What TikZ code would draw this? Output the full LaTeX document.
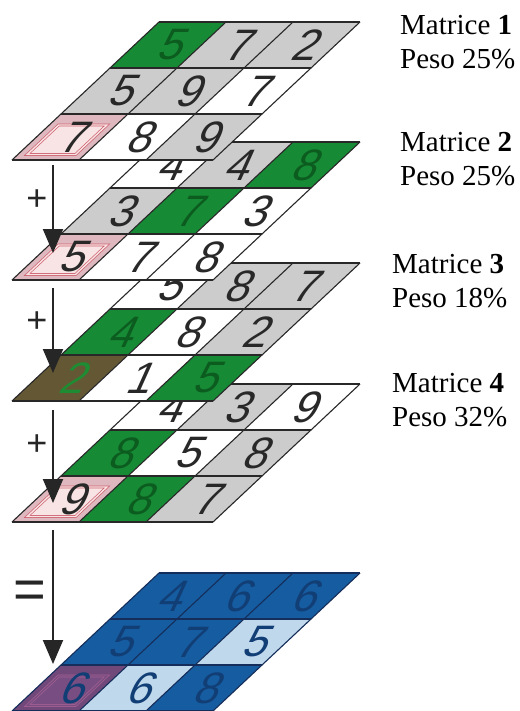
\documentclass[tikz,border=0pt]{standalone}
\usepackage{fontspec}
\setmainfont{Liberation Serif}
\newfontfamily\numfont[FakeSlant=0.45]{Liberation Sans}
\newfontfamily\symfont{Liberation Sans}
\usetikzlibrary{arrows.meta}
\definecolor{cgreen}{RGB}{22,138,52}
\definecolor{cgray}{RGB}{204,204,204}
\definecolor{cpink}{RGB}{222,184,190}
\definecolor{cpinkin}{RGB}{248,228,228}
\definecolor{cpinkline}{RGB}{205,95,110}
\definecolor{colive}{RGB}{100,88,52}
\definecolor{cblue}{RGB}{22,92,160}
\definecolor{clblue}{RGB}{192,216,236}
\definecolor{cpurple}{RGB}{112,72,122}
\definecolor{cpurplein}{RGB}{120,78,130}
\definecolor{cpurpleline}{RGB}{165,95,145}
\definecolor{dgray}{RGB}{40,40,40}
\definecolor{dgreen}{RGB}{12,92,32}
\definecolor{mgreen}{RGB}{30,140,50}
\definecolor{dblue}{RGB}{18,62,118}
\definecolor{gline}{RGB}{40,40,40}
\definecolor{bline}{RGB}{20,45,90}
\tikzset{
  layer/.style 2 args={shift={(#1,#2)}, x={(67pt,0pt)}, y={(-49pt,-46pt)}},
  digit/.style={font=\numfont\fontsize{44}{44}\selectfont, inner sep=0pt},
  gl/.style={line width=1.1pt},
  lab/.style={anchor=base west, inner sep=0pt, font=\fontsize{29}{29}\selectfont},
  sym/.style={inner sep=0pt, text=black!85},
  arr/.style={line width=2pt, draw=black!85, -{Triangle[width=20pt,length=24pt]}}
}
\newcommand\mcell[6]{%
  \fill[#3] (#2-1,#1-1) -- (#2,#1-1) -- (#2,#1) -- (#2-1,#1) -- cycle;
  \node[digit, text=#4] (#6) at (#2-0.5,#1-0.5) {#5};}
\newcommand\hcell[8]{%
  \fill[#3] (#2-1,#1-1) -- (#2,#1-1) -- (#2,#1) -- (#2-1,#1) -- cycle;
  \filldraw[fill=#4, draw=#5, line width=0.7pt, double=#4, double distance=1.4pt]
    (#2-1+0.14,#1-1+0.24) -- (#2-0.14,#1-1+0.24) -- (#2-0.14,#1-0.12) -- (#2-1+0.14,#1-0.12) -- cycle;
  \node[digit, text=#6] (#8) at (#2-0.5,#1-0.5) {#7};}
\newcommand\gridlines[1]{%
  \foreach \i in {0,1,2,3} {\draw[gl,#1] (0,\i) -- (3,\i); \draw[gl,#1] (\i,0) -- (\i,3);}}
\begin{document}
\begin{tikzpicture}[x=1pt,y=-1pt]
\useasboundingbox (0,0) rectangle (519,711);
\fill[white] (0,0) rectangle (519,711);
% result matrix
\begin{scope}[layer={159}{573}]
  \mcell{1}{1}{cblue}{dblue}{4}{m5a}
  \mcell{1}{2}{cblue}{dblue}{6}{m5b}
  \mcell{1}{3}{cblue}{dblue}{6}{m5c}
  \mcell{2}{1}{cblue}{dblue}{5}{m5d}
  \mcell{2}{2}{cblue}{dblue}{7}{m5e}
  \mcell{2}{3}{clblue}{dblue}{5}{m5f}
  \hcell{3}{1}{cpurple}{cpurplein}{cpurpleline}{dblue}{6}{m5g}
  \mcell{3}{2}{clblue}{dblue}{6}{m5h}
  \mcell{3}{3}{cblue}{dblue}{8}{m5i}
  \gridlines{bline}
\end{scope}
% matrix 4
\begin{scope}[layer={159}{384}]
  \mcell{1}{1}{white}{dgray}{4}{m4a}
  \mcell{1}{2}{cgray}{dgray}{3}{m4b}
  \mcell{1}{3}{white}{dgray}{9}{m4c}
  \mcell{2}{1}{cgreen}{dgreen}{8}{m4d}
  \mcell{2}{2}{white}{dgray}{5}{m4e}
  \mcell{2}{3}{cgray}{dgray}{8}{m4f}
  \hcell{3}{1}{cpink}{cpinkin}{cpinkline}{dgray}{9}{m4g}
  \mcell{3}{2}{cgreen}{dgreen}{8}{m4h}
  \mcell{3}{3}{cgray}{dgray}{7}{m4i}
  \gridlines{gline}
\end{scope}
% matrix 3
\begin{scope}[layer={159}{263}]
  \mcell{1}{1}{white}{dgray}{5}{m3a}
  \mcell{1}{2}{cgray}{dgray}{8}{m3b}
  \mcell{1}{3}{cgray}{dgray}{7}{m3c}
  \mcell{2}{1}{cgreen}{dgreen}{4}{m3d}
  \mcell{2}{2}{white}{dgray}{8}{m3e}
  \mcell{2}{3}{cgray}{dgray}{2}{m3f}
  \mcell{3}{1}{colive}{mgreen}{2}{m3g}
  \mcell{3}{2}{white}{dgray}{1}{m3h}
  \mcell{3}{3}{cgreen}{dgreen}{5}{m3i}
  \gridlines{gline}
\end{scope}
% matrix 2
\begin{scope}[layer={159}{142}]
  \mcell{1}{1}{white}{dgray}{4}{m2a}
  \mcell{1}{2}{cgray}{dgray}{4}{m2b}
  \mcell{1}{3}{cgreen}{dgreen}{8}{m2c}
  \mcell{2}{1}{cgray}{dgray}{3}{m2d}
  \mcell{2}{2}{cgreen}{dgreen}{7}{m2e}
  \mcell{2}{3}{white}{dgray}{3}{m2f}
  \hcell{3}{1}{cpink}{cpinkin}{cpinkline}{dgray}{5}{m2g}
  \mcell{3}{2}{white}{dgray}{7}{m2h}
  \mcell{3}{3}{white}{dgray}{8}{m2i}
  \gridlines{gline}
\end{scope}
% matrix 1
\begin{scope}[layer={159}{22}]
  \mcell{1}{1}{cgreen}{dgreen}{5}{m1a}
  \mcell{1}{2}{cgray}{dgray}{7}{m1b}
  \mcell{1}{3}{cgray}{dgray}{2}{m1c}
  \mcell{2}{1}{cgray}{dgray}{5}{m1d}
  \mcell{2}{2}{cgray}{dgray}{9}{m1e}
  \mcell{2}{3}{white}{dgray}{7}{m1f}
  \hcell{3}{1}{cpink}{cpinkin}{cpinkline}{dgray}{7}{m1g}
  \mcell{3}{2}{white}{dgray}{8}{m1h}
  \mcell{3}{3}{cgray}{dgray}{9}{m1i}
  \gridlines{gline}
\end{scope}
% arrows
\coordinate (a1s) at (53,165); \coordinate (a1e) at (53,253);
\coordinate (a2s) at (53,288); \coordinate (a2e) at (53,373);
\coordinate (a3s) at (53,410); \coordinate (a3e) at (53,503);
\coordinate (a4s) at (53,530); \coordinate (a4e) at (53,664);
\draw[arr] (a1s) -- (a1e);
\draw[arr] (a2s) -- (a2e);
\draw[arr] (a3s) -- (a3e);
\draw[arr] (a4s) -- (a4e);
\node[sym, font=\symfont\fontsize{36}{36}\selectfont] (p1) at (37,200) {+};
\node[sym, font=\symfont\fontsize{36}{36}\selectfont] (p2) at (37,322) {+};
\node[sym, font=\symfont\fontsize{36}{36}\selectfont] (p3) at (37,445) {+};
\node[sym, font=\symfont\fontsize{56}{56}\selectfont] (eq) at (30,595) {=};
% labels
\node[lab] (l1a) at (400,35) {Matrice \textbf{1}};
\node[lab] (l1b) at (400,69) {Peso 25\%};
\node[lab] (l2a) at (400,152) {Matrice \textbf{2}};
\node[lab] (l2b) at (400,186) {Peso 25\%};
\node[lab] (l3a) at (392,273) {Matrice \textbf{3}};
\node[lab] (l3b) at (392,307) {Peso 18\%};
\node[lab] (l4a) at (392,392) {Matrice \textbf{4}};
\node[lab] (l4b) at (392,426) {Peso 32\%};
\end{tikzpicture}
\end{document}
